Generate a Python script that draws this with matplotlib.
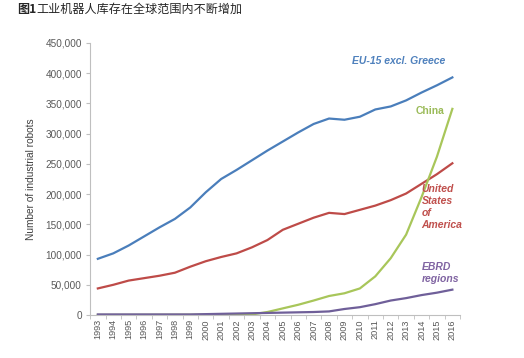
import numpy as np
import matplotlib.pyplot as plt

years = list(range(1993, 2017))
eu15 = [93000, 102000, 115000, 130000, 145000, 159000, 178000, 203000, 225000, 240000,
        256000, 272000, 287000, 302000, 316000, 325000, 323000, 328000, 340000, 345000,
        355000, 368000, 380000, 393000]
usa = [44000, 50000, 57000, 61000, 65000, 70000, 80000, 89000, 96000, 102000,
       112000, 124000, 141000, 151000, 161000, 169000, 167000, 174000, 181000, 190000,
       201000, 217000, 233000, 251000]
china = [200, 250, 300, 350, 400, 450, 500, 600, 700, 800,
         1000, 5000, 11000, 17000, 24000, 31500, 36000, 44000, 64000, 94000,
         133000, 195000, 262000, 341000]
ebrd = [1000, 1000, 1000, 1000, 1000, 1000, 1000, 1500, 2000, 2500,
        3000, 3500, 4000, 4500, 5000, 6000, 10000, 13000, 18000, 24000,
        28000, 33000, 37000, 42000]

plt.rcParams['font.family'] = ['Liberation Sans', 'DejaVu Sans']

fig = plt.figure(figsize=(5.24, 3.58), dpi=100)
ax = fig.add_axes([0.172, 0.120, 0.706, 0.760])

x = np.arange(len(years))
ax.plot(x, eu15, color='#4a7ebb', lw=1.6)
ax.plot(x, usa, color='#be4b48', lw=1.6)
ax.plot(x, china, color='#a8c65a', lw=1.6)
ax.plot(x, ebrd, color='#6f5f99', lw=1.6)

ax.set_xlim(-0.5, len(years) - 0.5)
ax.set_ylim(0, 450000)
ax.set_yticks(range(0, 450001, 50000))
ax.set_yticklabels([f'{v:,}' for v in range(0, 450001, 50000)], fontsize=7.2, color='#595959')
ax.set_xticks(x)
ax.set_xticklabels([str(y) for y in years], rotation=90, fontsize=6.6, color='#595959')
ax.set_xticks(np.arange(-0.5, len(years)), minor=True)
ax.tick_params(axis='x', which='major', length=0, pad=3)
ax.tick_params(axis='x', which='minor', length=3, color='#bfbfbf', direction='out')
ax.tick_params(axis='y', length=3, color='#bfbfbf', direction='out', pad=3)

for s in ['top', 'right']:
    ax.spines[s].set_visible(False)
for s in ['left', 'bottom']:
    ax.spines[s].set_color('#bfbfbf')
    ax.spines[s].set_linewidth(0.8)

ax.set_ylabel('Number of industrial robots', fontsize=7.3, color='#404040', labelpad=7)

ax.text(16.5, 420000, 'EU-15 excl. Greece', color='#4f81bd', fontsize=7.5,
        fontweight='bold', style='italic', va='center', ha='left')
ax.text(20.6, 338000, 'China', color='#9bbb59', fontsize=7.5,
        fontweight='bold', va='center', ha='left')
ax.text(21.0, 217000, 'United\nStates\nof\nAmerica', color='#c0504d', fontsize=7.5,
        fontweight='bold', style='italic', va='top', ha='left', linespacing=1.25)
ax.text(21.0, 87000, 'EBRD\nregions', color='#8064a2', fontsize=7.5,
        fontweight='bold', style='italic', va='top', ha='left', linespacing=1.25)

cjk = ['Noto Sans CJK SC', 'DejaVu Sans']
fig.text(0.032, 0.974, '图1', family=cjk, fontsize=8.7, fontweight='bold',
         va='center', ha='left', color='#262626')
fig.text(0.069, 0.974, '工业机器人库存在全球范围内不断增加', family=cjk, fontsize=8.7,
         va='center', ha='left', color='#262626')

fig.savefig('out.png', dpi=100, facecolor='white')
